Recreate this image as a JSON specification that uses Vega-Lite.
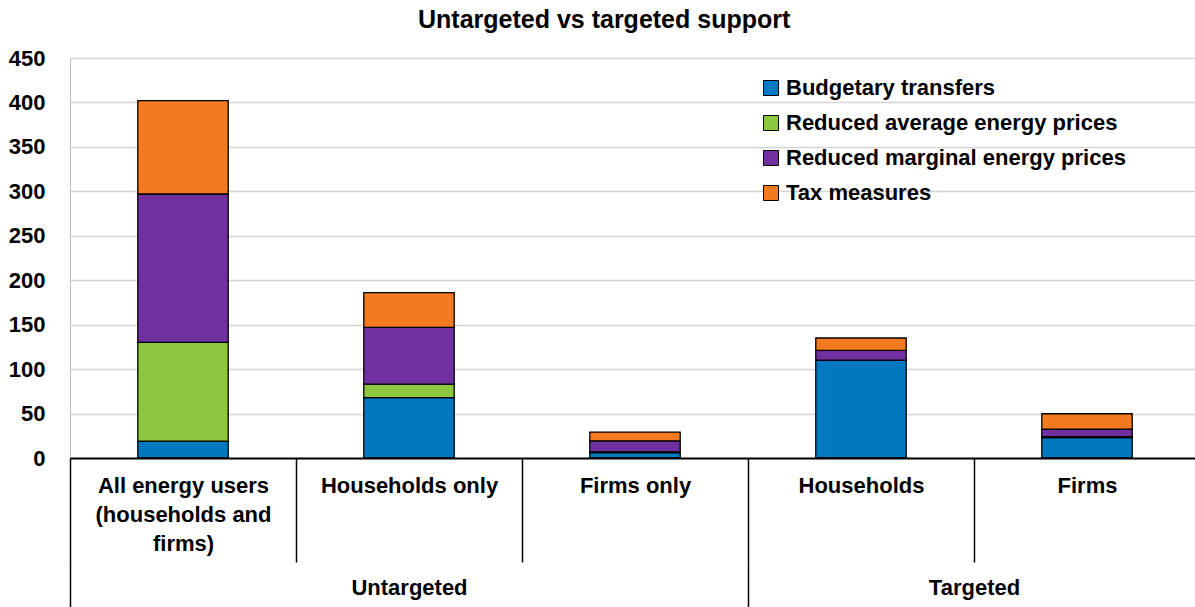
{
  "$schema": "https://vega.github.io/schema/vega-lite/v6.json",
  "width": 1130,
  "height": 400,
  "autosize": {"type": "none"},
  "padding": {"left": 70, "top": 58, "right": 0, "bottom": 149},
  "title": {"text": "Untargeted vs targeted support", "font": "Liberation Sans", "fontSize": 25, "fontWeight": "bold", "color": "black", "offset": 14, "anchor": "middle", "frame": "bounds"},
  "config": {"view": {"stroke": null}, "background": "white"},
  "data": {"values": [
    {"category": "All energy users (households and firms)", "group": "Untargeted", "type": "Budgetary transfers", "value": 19},
    {"category": "All energy users (households and firms)", "group": "Untargeted", "type": "Reduced average energy prices", "value": 111},
    {"category": "All energy users (households and firms)", "group": "Untargeted", "type": "Reduced marginal energy prices", "value": 167},
    {"category": "All energy users (households and firms)", "group": "Untargeted", "type": "Tax measures", "value": 105},
    {"category": "Households only", "group": "Untargeted", "type": "Budgetary transfers", "value": 68},
    {"category": "Households only", "group": "Untargeted", "type": "Reduced average energy prices", "value": 15},
    {"category": "Households only", "group": "Untargeted", "type": "Reduced marginal energy prices", "value": 64},
    {"category": "Households only", "group": "Untargeted", "type": "Tax measures", "value": 39},
    {"category": "Firms only", "group": "Untargeted", "type": "Budgetary transfers", "value": 6},
    {"category": "Firms only", "group": "Untargeted", "type": "Reduced average energy prices", "value": 1},
    {"category": "Firms only", "group": "Untargeted", "type": "Reduced marginal energy prices", "value": 12.3},
    {"category": "Firms only", "group": "Untargeted", "type": "Tax measures", "value": 9.9},
    {"category": "Households", "group": "Targeted", "type": "Budgetary transfers", "value": 110},
    {"category": "Households", "group": "Targeted", "type": "Reduced average energy prices", "value": 0},
    {"category": "Households", "group": "Targeted", "type": "Reduced marginal energy prices", "value": 11},
    {"category": "Households", "group": "Targeted", "type": "Tax measures", "value": 14},
    {"category": "Firms", "group": "Targeted", "type": "Budgetary transfers", "value": 23},
    {"category": "Firms", "group": "Targeted", "type": "Reduced average energy prices", "value": 1},
    {"category": "Firms", "group": "Targeted", "type": "Reduced marginal energy prices", "value": 8.5},
    {"category": "Firms", "group": "Targeted", "type": "Tax measures", "value": 17.3}
  ]},
  "layer": [
    {
      "mark": {"type": "bar", "stroke": "black", "strokeWidth": 1.3, "width": {"band": 0.4}},
      "encoding": {
        "x": {
          "field": "category", "type": "nominal", "sort": null,
          "scale": {"paddingInner": 0, "paddingOuter": 0},
          "axis": {
            "orient": "bottom", "title": null, "domainColor": "black", "domainWidth": 2,
            "tickBand": "extent", "tickColor": "black", "tickWidth": 1.5, "tickSize": 104,
            "tickOpacity": {"condition": {"test": "datum.value === 'Firms'", "value": 0}, "value": 1},
            "labelFont": "Liberation Sans", "labelFontWeight": "bold", "labelFontSize": 22, "labelColor": "black",
            "labelPadding": -87, "labelLineHeight": 29, "labelAngle": 0, "labelLimit": 1000, "labelOverlap": false,
            "labelExpr": "datum.value === 'All energy users (households and firms)' ? ['All energy users', '(households and', 'firms)'] : datum.label",
            "zindex": 1
          }
        },
        "y": {
          "field": "value", "type": "quantitative", "stack": "zero",
          "scale": {"domain": [0, 450], "nice": false},
          "axis": {
            "title": null, "values": [0, 50, 100, 150, 200, 250, 300, 350, 400, 450],
            "ticks": false, "labelPadding": 25, "domainColor": "#bfbfbf", "domainWidth": 1,
            "gridColor": "#d4d4d4", "gridWidth": 1.5,
            "labelFont": "Liberation Sans", "labelFontWeight": "bold", "labelFontSize": 22, "labelColor": "black"
          }
        },
        "color": {
          "field": "type", "type": "nominal",
          "sort": ["Budgetary transfers", "Reduced average energy prices", "Reduced marginal energy prices", "Tax measures"],
          "scale": {
            "domain": ["Budgetary transfers", "Reduced average energy prices", "Reduced marginal energy prices", "Tax measures"],
            "range": ["#0079c1", "#8dc63f", "#7030a0", "#f47a20"]
          },
          "legend": {
            "title": null, "orient": "none", "legendX": 690, "legendY": 19, "padding": 0,
            "labelFont": "Liberation Sans", "labelFontSize": 22, "labelFontWeight": "bold", "labelColor": "black",
            "symbolType": "square", "symbolSize": 225, "symbolStrokeColor": "black", "symbolStrokeWidth": 1,
            "rowPadding": 13, "labelOffset": 4, "labelLimit": 600
          }
        },
        "order": {"field": "type", "sort": "ascending"}
      }
    },
    {
      "mark": {"type": "rule", "opacity": 0},
      "encoding": {
        "x": {
          "field": "category", "type": "nominal", "sort": null,
          "axis": {
            "orient": "bottom", "offset": 104, "title": null, "domain": false,
            "tickBand": "extent", "tickColor": "black", "tickWidth": 1.5, "tickSize": 45,
            "tickOpacity": {"condition": {"test": "datum.value === 'Firms only' || (datum.extra ? true : false)", "value": 1}, "value": 0},
            "labelExpr": "datum.value === 'Households only' ? 'Untargeted' : datum.value === 'Firms' ? 'Targeted' : ''",
            "labelOffset": {"condition": {"test": "datum.value === 'Firms'", "value": -113}, "value": 0},
            "labelPadding": -30, "labelAngle": 0, "labelOverlap": false, "labelLimit": 1000,
            "labelFont": "Liberation Sans", "labelFontWeight": "bold", "labelFontSize": 22, "labelColor": "black"
          }
        }
      }
    }
  ],
  "resolve": {"axis": {"x": "independent"}}
}
